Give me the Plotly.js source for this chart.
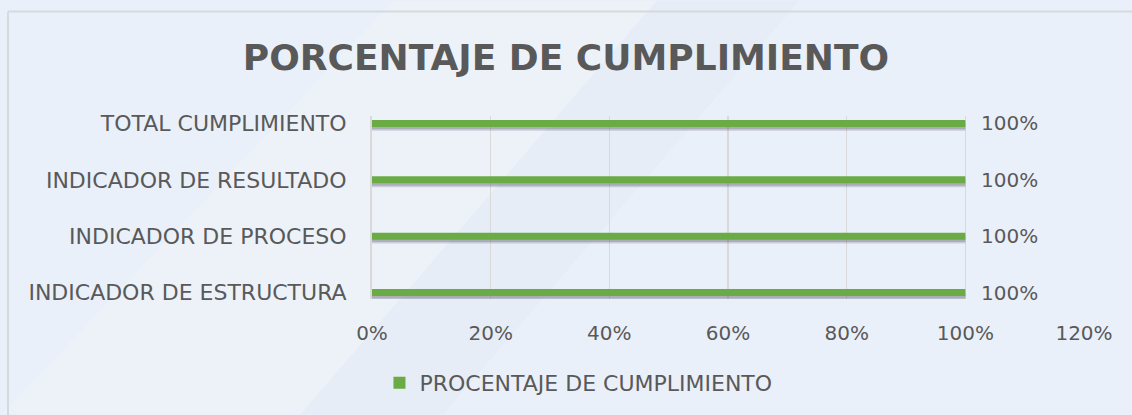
<!DOCTYPE html>
<html>
<head>
<meta charset="utf-8">
<script src="https://cdn.plot.ly/plotly-3.0.1.min.js"></script>
<style>html,body{margin:0;padding:0;background:#eaf0f9;}#chart{width:1132px;height:415px;}</style>
</head>
<body>
<div id="chart"></div>
<script>
// Data
const categories = ["INDICADOR DE ESTRUCTURA", "INDICADOR DE PROCESO", "INDICADOR DE RESULTADO", "TOTAL CUMPLIMIENTO"];
const values = [1.0, 1.0, 1.0, 1.0];
const seriesName = "PROCENTAJE DE CUMPLIMIENTO";
const chartTitle = "PORCENTAJE DE CUMPLIMIENTO";
const xTicks = [0, 0.2, 0.4, 0.6, 0.8, 1.0, 1.2];
const xTickLabels = ["0%", "20%", "40%", "60%", "80%", "100%", "120%"];

const FONT = "DejaVu Sans, sans-serif";
const GREY = "#595959";

const shadow = {
  type: "bar", orientation: "h", x: values, y: categories,
  width: 0.15, offset: -0.13,
  marker: {color: "rgba(80,80,95,0.22)", line: {width: 0}},
  showlegend: false, hoverinfo: "skip"
};
const shadow2 = {
  type: "bar", orientation: "h", x: values, y: categories,
  width: 0.11, offset: -0.105,
  marker: {color: "rgba(80,80,95,0.25)", line: {width: 0}},
  showlegend: false, hoverinfo: "skip"
};
const bars = {
  type: "bar", orientation: "h", x: values, y: categories, name: seriesName,
  width: 0.125,
  marker: {color: "#6aab45", line: {width: 0}},
};

const annotations = values.map((v, i) => ({
  x: v, y: categories[i], xref: "x", yref: "y",
  text: Math.round(v * 100) + "%", showarrow: false,
  xanchor: "left", yanchor: "middle", xshift: 14,
  font: {family: FONT, size: 20, color: GREY}
}));

const layout = {
  width: 1132, height: 415,
  paper_bgcolor: "#eaf0f9", plot_bgcolor: "rgba(0,0,0,0)",
  margin: {l: 372, r: 48, t: 116, b: 115, pad: 0},
  barmode: "overlay",
  title: {text: "<b>" + chartTitle + "</b>", xref: "container", x: 0.5, xanchor: "center",
          yref: "container", y: 1 - 57/415, yanchor: "middle",
          font: {family: FONT, size: 36, color: GREY}},
  xaxis: {range: [0, 1.2], tickvals: xTicks, ticktext: xTickLabels, showgrid: true,
          gridcolor: "#d9d9d9", gridwidth: 1.5, zeroline: false, showline: false,
          ticks: "outside", ticklen: 16, tickcolor: "rgba(0,0,0,0)",
          tickfont: {family: FONT, size: 20, color: GREY}, fixedrange: true},
  yaxis: {type: "category", range: [-0.115, 3.132], showgrid: false, zeroline: false,
          showline: true, linecolor: "#d9d9d9", linewidth: 2,
          ticks: "outside", ticklen: 19, tickcolor: "rgba(0,0,0,0)",
          tickfont: {family: FONT, size: 22, color: GREY}, fixedrange: true},
  legend: {orientation: "h", x: 0.29, xanchor: "center", y: -0.451, yanchor: "middle",
           font: {family: FONT, size: 22, color: GREY}, bgcolor: "rgba(0,0,0,0)",
           itemwidth: 30},
  annotations: annotations,
  shapes: [
    {type: "path", xref: "paper", yref: "paper", layer: "below",
     path: "M -0.52 -0.63 L -0.10 -0.63 L 0.40 1.63 L 0.03 1.63 Z",
     fillcolor: "rgba(255,255,255,0.14)", line: {width: 0}},
    {type: "path", xref: "paper", yref: "paper", layer: "below",
     path: "M -0.10 -0.63 L 0.10 -0.63 L 0.60 1.63 L 0.40 1.63 Z",
     fillcolor: "rgba(205,215,238,0.13)", line: {width: 0}},
    {type: "line", xref: "paper", yref: "paper", x0: (8-372)/712, x1: 1.2, y0: (300-11)/184, y1: (300-11)/184,
     line: {color: "#d6d9de", width: 2}, layer: "below"},
    {type: "line", xref: "paper", yref: "paper", x0: (8-372)/712, x1: (8-372)/712, y0: (300-11)/184, y1: -1.0,
     line: {color: "#d6d9de", width: 2}, layer: "below"}
  ]
};

Plotly.newPlot("chart", [shadow, shadow2, bars], layout, {displayModeBar: false, staticPlot: true});
</script>
</body>
</html>
